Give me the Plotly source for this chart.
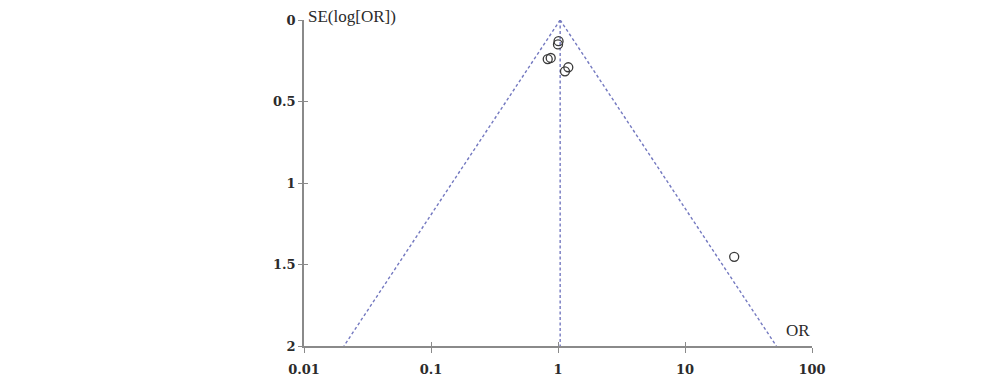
import numpy as np
import plotly.graph_objects as go

# Study data (odds ratios and standard errors of log OR)
study_or = [1.01, 1.00, 0.83, 0.876, 1.205, 1.135, 24.4]
study_se = [0.13, 0.15, 0.24, 0.233, 0.29, 0.315, 1.453]
pooled_or = 1.04
se_max = 2.0

x_ticks = [0.01, 0.1, 1, 10, 100]
x_tick_labels = ["0.01", "0.1", "1", "10", "100"]
y_ticks = [0, 0.5, 1, 1.5, 2]
y_tick_labels = ["0", "0.5", "1", "1.5", "2"]

TICKFONT = "DejaVu Serif"
LABFONT = "Liberation Serif"
TXT = "#2b2b2b"
AX = "#8a8a8a"
LINE = "#7479c0"
DASH = "3px,2.5px"

fig = go.Figure()

se_line = np.array([0.0, se_max])
left = pooled_or * np.exp(-1.96 * se_line)
right = pooled_or * np.exp(1.96 * se_line)

for xs, ys in [(list(left), list(se_line)), (list(right), list(se_line)),
               ([pooled_or, pooled_or], [0, se_max])]:
    fig.add_trace(go.Scatter(x=xs, y=ys, mode="lines",
                             line=dict(color=LINE, width=1.4, dash=DASH), showlegend=False))

fig.add_trace(go.Scatter(x=study_or, y=study_se, mode="markers",
                         marker=dict(symbol="circle-open", size=9, color="#3a3a3a",
                                     line=dict(width=1.3, color="#3a3a3a")),
                         showlegend=False))

# invisible trace to activate overlay axes for crossing ticks
fig.add_trace(go.Scatter(x=[1], y=[1], xaxis="x2", yaxis="y2", mode="markers",
                         marker=dict(opacity=0), showlegend=False, hoverinfo="skip"))

fig.update_layout(
    width=1000, height=380,
    margin=dict(l=304, r=188, t=20, b=34, autoexpand=False),
    paper_bgcolor="white", plot_bgcolor="white",
    font=dict(family=TICKFONT, size=13, color=TXT),
    xaxis=dict(type="log", range=[-2, 2], tickvals=x_ticks, ticktext=x_tick_labels,
               automargin=False,
               showgrid=False, zeroline=False, showline=True, linecolor=AX, linewidth=1.6,
               ticks="outside", ticklen=5, tickcolor=AX, tickwidth=1.3,
               ticklabelstandoff=6,
               tickfont=dict(family=TICKFONT, size=13, color=TXT, weight="bold")),
    yaxis=dict(range=[se_max, 0], tickvals=y_ticks, ticktext=y_tick_labels,
               automargin=False,
               showgrid=False, zeroline=False, showline=True, linecolor=AX, linewidth=1.6,
               ticks="outside", ticklen=4, tickcolor=AX, tickwidth=1.3,
               tickfont=dict(family=TICKFONT, size=13, color=TXT, weight="bold")),
    xaxis2=dict(type="log", range=[-2, 2], tickvals=x_ticks, overlaying="x",
                automargin=False,
                showticklabels=False, showgrid=False, zeroline=False,
                ticks="inside", ticklen=4, tickcolor=AX, tickwidth=1.3, side="bottom",
                anchor="y2"),
    yaxis2=dict(range=[se_max, 0], tickvals=y_ticks, overlaying="y",
                automargin=False,
                showticklabels=False, showgrid=False, zeroline=False,
                ticks="inside", ticklen=4, tickcolor=AX, tickwidth=1.3, side="left",
                anchor="x2"),
    annotations=[
        dict(text="SE(log[OR])", xref="paper", yref="paper", x=0.0, y=1.0,
             xanchor="left", yanchor="middle", xshift=2, yshift=4, showarrow=False,
             font=dict(family=LABFONT, size=17, color=TXT)),
        dict(text="OR", xref="paper", yref="paper", x=1.0, y=0.0,
             xanchor="right", yanchor="bottom", yshift=4, showarrow=False,
             font=dict(family=LABFONT, size=17, color=TXT)),
    ],
)

fig.write_html("out.html")
